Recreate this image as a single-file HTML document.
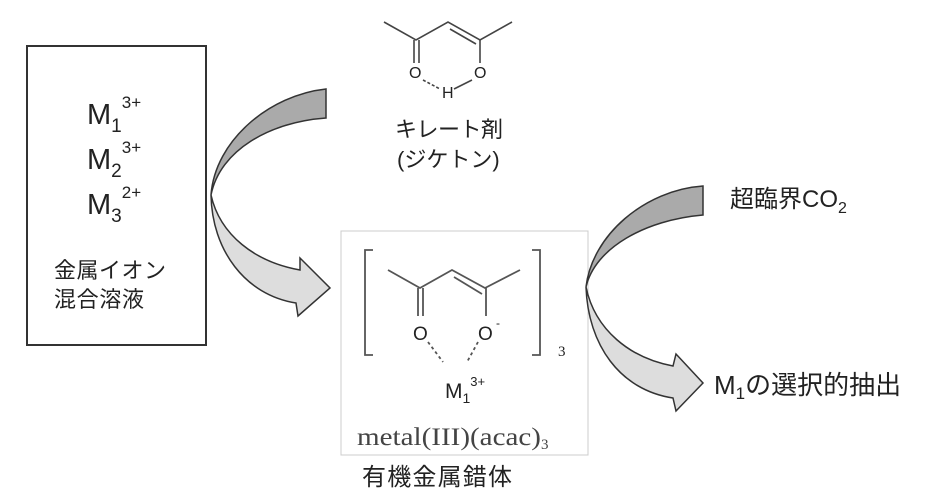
<!DOCTYPE html>
<html><head><meta charset="utf-8"><style>
body{margin:0;background:#fff;}
svg{display:block}
text{font-family:"Liberation Sans","Noto Sans CJK JP",sans-serif;fill:#222}
</style></head><body>
<svg width="944" height="497" viewBox="0 0 944 497" xmlns="http://www.w3.org/2000/svg">
<!-- left box -->
<rect x="27" y="46" width="179" height="299" fill="#fff" stroke="#333" stroke-width="2"/>
<g font-size="29">
<text x="87" y="124">M<tspan font-size="19" dy="8">1</tspan><tspan font-size="17" dy="-24">3+</tspan></text>
<text x="87" y="169">M<tspan font-size="19" dy="8">2</tspan><tspan font-size="17" dy="-24">3+</tspan></text>
<text x="87" y="214">M<tspan font-size="19" dy="8">3</tspan><tspan font-size="17" dy="-24">2+</tspan></text>
</g>
<text x="54" y="278" font-size="22" textLength="112">金属イオン</text>
<text x="54" y="307" font-size="22" textLength="90">混合溶液</text>

<!-- left curved arrow -->
<path d="M326,89 L326,118 C270,122 220,150 211,195 C215,140 270,95 326,89 Z" fill="#aaa" stroke="#333" stroke-width="1.5"/>
<path d="M211,195 C220,235 255,262 300,270 L300,258 L330,288 L298,316 L296,303 C245,295 212,250 211,195 Z" fill="#ddd" stroke="#333" stroke-width="1.5"/>

<!-- top molecule -->
<g stroke="#444" stroke-width="1.6" fill="none">
<polyline points="384,22 416,40 448,22 480,40 512,22"/>
<line x1="450" y1="29" x2="476" y2="44"/>
<line x1="414" y1="40" x2="414" y2="63"/>
<line x1="419" y1="40" x2="419" y2="63"/>
<line x1="480" y1="40" x2="480" y2="63"/>
<line x1="423" y1="80" x2="440" y2="89" stroke-dasharray="3,2"/>
<line x1="454" y1="89" x2="472" y2="80"/>
</g>
<g font-size="16"><text x="409" y="78">O</text><text x="474" y="78">O</text><text x="442" y="98">H</text></g>
<text x="395" y="137" font-size="22" textLength="108">キレート剤</text>
<text x="397" y="167" font-size="22">(ジケトン)</text>

<!-- center box -->
<rect x="341" y="231" width="247" height="224" fill="#fff" stroke="#ccc" stroke-width="1"/>
<g stroke="#555" stroke-width="1.8" fill="none">
<polyline points="373,250 365,250 365,355 373,355"/>
<polyline points="532,250 540,250 540,355 532,355"/>
<polyline points="388,270 420,288 452,270 485,288 520,270"/>
<line x1="454" y1="277" x2="482" y2="294"/>
<line x1="418" y1="288" x2="418" y2="316"/>
<line x1="423" y1="288" x2="423" y2="316"/>
<line x1="486" y1="288" x2="486" y2="316"/>
<line x1="428" y1="342" x2="443" y2="362" stroke-dasharray="3,3"/>
<line x1="478" y1="342" x2="467" y2="362" stroke-dasharray="3,3"/>
</g>
<g font-size="19" fill="#444"><text x="413" y="340">O</text><text x="478" y="340">O</text><text x="496" y="327" font-size="12">-</text></g>
<text x="558" y="356" font-size="15" style="font-family:'Liberation Serif',serif">3</text>
<text x="445" y="398" font-size="21">M<tspan font-size="14" dy="5">1</tspan><tspan font-size="13" dy="-17">3+</tspan></text>
<text x="357" y="445" font-size="25" textLength="184" lengthAdjust="spacingAndGlyphs" style="font-family:'Liberation Serif',serif;fill:#444">metal(III)(acac)</text>
<text x="541" y="449" font-size="15" style="font-family:'Liberation Serif',serif;fill:#444">3</text>
<text x="362" y="485" font-size="24" textLength="150">有機金属錯体</text>

<!-- right curved arrow -->
<path d="M703,186 L703,215 C645,220 595,248 586,287 C592,235 645,190 703,186 Z" fill="#aaa" stroke="#333" stroke-width="1.5"/>
<path d="M586,287 C595,330 630,358 673,366 L676,354 L703,383 L676,411 L673,398 C620,390 588,345 586,287 Z" fill="#ddd" stroke="#333" stroke-width="1.5"/>
<text x="730" y="207" font-size="24">超臨界CO<tspan font-size="16" dy="6">2</tspan></text>
<text x="714" y="394" font-size="26">M<tspan font-size="17" dy="5">1</tspan><tspan dy="-5">の選択的抽出</tspan></text>
</svg>
</body></html>
